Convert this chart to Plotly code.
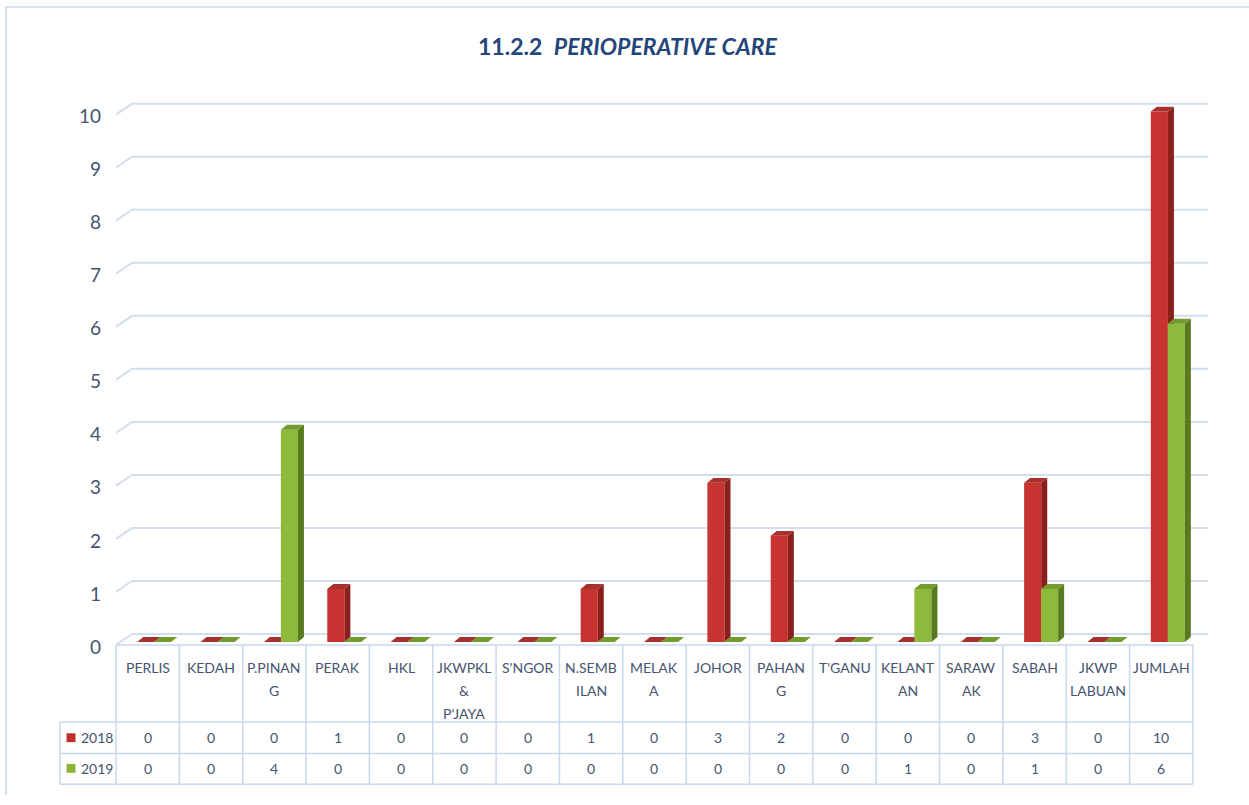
import plotly.graph_objects as go

# ---- data ----
categories = ["PERLIS", "KEDAH", "P.PINAN<br>G", "PERAK", "HKL", "JKWPKL<br>&<br>P'JAYA",
              "S'NGOR", "N.SEMB<br>ILAN", "MELAK<br>A", "JOHOR", "PAHAN<br>G", "T'GANU",
              "KELANT<br>AN", "SARAW<br>AK", "SABAH", "JKWP<br>LABUAN", "JUMLAH"]
values_2018 = [0, 0, 0, 1, 0, 0, 0, 1, 0, 3, 2, 0, 0, 0, 3, 0, 10]
values_2019 = [0, 0, 4, 0, 0, 0, 0, 0, 0, 0, 0, 0, 1, 0, 1, 0, 6]
series_names = ["2018", "2019"]
y_ticks = [0, 1, 2, 3, 4, 5, 6, 7, 8, 9, 10]

# ---- geometry (pixels) ----
W, H = 1249, 805
PLOT_L, PLOT_R = 116, 1208
ZERO_PX = 650          # pixel row of value 0 (front face)
Y_PX = 53.7            # pixels per unit
X_PX = 63.35           # pixels per category
X_MIN = -0.5
X_MAX = X_MIN + (PLOT_R - PLOT_L) / X_PX
Y_MIN, Y_MAX = -0.1, 10.6
TABLE_L = 60
TABLE_ROWS = [653, 731, 763, 794]   # header top, 2018 top, 2019 top, bottom
HEADER_LINE_Y = [676, 699, 722]
ROW_TEXT_Y = [747, 778]

FONT = "Lato"
TXT = "#44546f"
GRID = "#d3deec"
TABLE_LINE = "#c9d8ec"

# 3d depth of the bars
DX = 6 / X_PX
DY = 5 / Y_PX
BAR_W = 0.27

styles = [
    dict(off=-0.03, front="#c63330", side="#8a1f1c", top="#a9302c", key="#c0302c"),
    dict(off=0.237, front="#8dba3c", side="#5a7a1f", top="#729c2c", key="#8db33a"),
]


def py(px):
    """paper y from pixel row"""
    return (H - px) / H


def pxx(px):
    return px / W


fig = go.Figure()

for k, (name, vals) in enumerate(zip(series_names, [values_2018, values_2019])):
    st = styles[k]
    xs = [i + st["off"] for i in range(len(vals))]
    fig.add_trace(go.Bar(
        x=xs, y=vals, width=BAR_W, name=name, showlegend=False,
        marker=dict(color=st["front"], line=dict(width=0)),
        zorder=2 * k,
    ))
    # right side and top faces of each bar
    side_x, side_y, top_x, top_y = [], [], [], []
    for x, v in zip(xs, vals):
        x0, x1 = x - BAR_W / 2, x + BAR_W / 2
        if v > 0:
            side_x += [x1, x1 + DX, x1 + DX, x1, x1, None]
            side_y += [0, DY, v + DY, v, 0, None]
        top_x += [x0, x1, x1 + DX, x0 + DX, x0, None]
        top_y += [v, v, v + DY, v + DY, v, None]
    fig.add_trace(go.Scatter(x=side_x, y=side_y, mode="lines", fill="toself",
                             fillcolor=st["side"], line=dict(width=0),
                             hoverinfo="skip", showlegend=False, zorder=2 * k + 1))
    fig.add_trace(go.Scatter(x=top_x, y=top_y, mode="lines", fill="toself",
                             fillcolor=st["top"], line=dict(width=0),
                             hoverinfo="skip", showlegend=False, zorder=2 * k + 1))

# back-wall gridlines with the slanted left edge
for v in y_ticks:
    yf = v - 3 / Y_PX
    yb = v + 8 / Y_PX
    xb = X_MIN + 16 / X_PX
    fig.add_shape(type="path", layer="below",
                  path=f"M {X_MIN},{yf} L {xb},{yb} L {X_MAX},{yb}",
                  line=dict(color=GRID, width=2), xref="x", yref="y")

# ---- data table under the chart (grid + texts) ----
n = len(categories)
col_edges = [PLOT_L + X_PX * c for c in range(n + 1)]
table_r = col_edges[-1]


def hline(y, x0, x1):
    fig.add_shape(type="line", xref="paper", yref="paper",
                  x0=pxx(x0), x1=pxx(x1), y0=py(y), y1=py(y),
                  line=dict(color=TABLE_LINE, width=1.5))


def vline(x, y0, y1):
    fig.add_shape(type="line", xref="paper", yref="paper",
                  x0=pxx(x), x1=pxx(x), y0=py(y0), y1=py(y1),
                  line=dict(color=TABLE_LINE, width=1.5))


hline(TABLE_ROWS[0], PLOT_L, table_r)
for y in TABLE_ROWS[1:]:
    hline(y, TABLE_L, table_r)
for x in col_edges:
    vline(x, TABLE_ROWS[0], TABLE_ROWS[-1])
vline(TABLE_L, TABLE_ROWS[1], TABLE_ROWS[-1])

for c, label in enumerate(categories):
    cx = pxx(PLOT_L + X_PX * (c + 0.5))
    for j, part in enumerate(label.split("<br>")):
        fig.add_annotation(text=part, x=cx, y=py(HEADER_LINE_Y[j]), xref="paper", yref="paper",
                           xanchor="center", yanchor="middle", showarrow=False,
                           font=dict(family=FONT, size=14, color=TXT))
    for r, vals in enumerate([values_2018, values_2019]):
        fig.add_annotation(text=str(vals[c]), x=cx, y=py(ROW_TEXT_Y[r]), xref="paper", yref="paper",
                           xanchor="center", yanchor="middle", showarrow=False,
                           font=dict(family=FONT, size=14, color=TXT))

# legend keys in the row-label column
for r, name in enumerate(series_names):
    yc = ROW_TEXT_Y[r]
    fig.add_shape(type="rect", xref="paper", yref="paper",
                  x0=pxx(66.5), x1=pxx(75.5), y0=py(yc + 4.5), y1=py(yc - 4.5),
                  fillcolor=styles[r]["key"], line=dict(width=0))
    fig.add_annotation(text=name, x=pxx(79), y=py(yc), xref="paper", yref="paper",
                       xanchor="left", yanchor="middle", showarrow=False,
                       font=dict(family=FONT, size=14, color=TXT))

# title
fig.add_annotation(
    text="<b>11.2.2 </b> <b><i>PERIOPERATIVE CARE</i></b>",
    x=0.503, y=py(47), xref="paper", yref="paper", xanchor="center", yanchor="middle",
    showarrow=False, font=dict(family=FONT, size=23, color="#24457a"),
)

# outer frame (left and top edges)
fig.add_shape(type="path", xref="paper", yref="paper",
              path=f"M {pxx(6)},0 L {pxx(6)},{py(7)} L 1,{py(7)}",
              line=dict(color="#d7e3f2", width=2))

fig.update_layout(
    width=W, height=H, margin=dict(l=0, r=0, t=0, b=0),
    paper_bgcolor="white", plot_bgcolor="white",
    barmode="overlay", showlegend=False,
    xaxis=dict(domain=[pxx(PLOT_L), pxx(PLOT_R)], range=[X_MIN, X_MAX],
               showgrid=False, zeroline=False, showticklabels=False, showline=False),
    yaxis=dict(domain=[py(ZERO_PX - Y_MIN * Y_PX), py(ZERO_PX - Y_MAX * Y_PX)],
               range=[Y_MIN, Y_MAX], tickvals=y_ticks, showgrid=False, zeroline=False,
               showline=False, ticks="", ticklabelstandoff=14, ticklabelshift=5,
               tickfont=dict(family=FONT, size=19, color=TXT)),
)

# keep the page exactly one figure tall
page_css = ("document.documentElement.style.overflow='hidden';"
            "document.body.style.margin='0';"
            "document.body.style.overflow='hidden';")

fig.write_html("out.html", config={"displayModeBar": False}, post_script=page_css)
